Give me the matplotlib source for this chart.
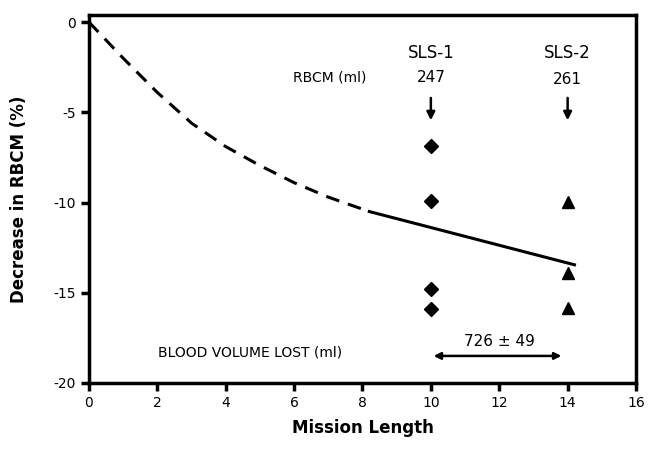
import numpy as np
import matplotlib.pyplot as plt

plt.rcParams['axes.unicode_minus'] = False

# dashed early-flight trend and solid fitted segment
dash_x = [0, 1, 2, 3, 4, 5, 6, 7, 8.2]
dash_y = [0, -2.0, -3.9, -5.6, -6.9, -7.95, -8.9, -9.7, -10.5]
solid_x = [8.2, 14.2]
solid_y = [-10.5, -13.45]

# individual subjects
sls1_x = [10, 10, 10, 10]
sls1_y = [-6.85, -9.9, -14.8, -15.9]
sls2_x = [14, 14, 14]
sls2_y = [-9.95, -13.9, -15.85]

xticks = [0, 2, 4, 6, 8, 10, 12, 14, 16]
yticks = [0, -5, -10, -15, -20]


def main():
    fig = plt.figure(figsize=(6.49, 4.49), dpi=100)
    ax = fig.add_axes([0.137, 0.147, 0.843, 0.82])

    ax.plot(dash_x, dash_y, color='black', lw=2.2, ls=(0, (4.5, 3)))
    ax.plot(solid_x, solid_y, color='black', lw=2.2)
    ax.plot(sls1_x, sls1_y, 'D', color='black', ms=7, ls='none')
    ax.plot(sls2_x, sls2_y, '^', color='black', ms=9, ls='none')

    ax.set_xlim(0, 16)
    ax.set_ylim(-20, 0.4)
    ax.set_xticks(xticks)
    ax.set_yticks(yticks)
    ax.tick_params(direction='out', length=6, width=2.5, labelsize=10)
    for s in ax.spines.values():
        s.set_linewidth(2.5)

    ax.set_xlabel('Mission Length', fontsize=12, fontweight='bold', labelpad=6)
    ax.set_ylabel('Decrease in RBCM (%)', fontsize=12, fontweight='bold', labelpad=18)

    ax.text(10, -1.7, 'SLS-1', ha='center', va='center', fontsize=12)
    ax.text(14, -1.7, 'SLS-2', ha='center', va='center', fontsize=12)
    ax.text(10, -3.1, '247', ha='center', va='center', fontsize=11)
    ax.text(14, -3.2, '261', ha='center', va='center', fontsize=11)
    ax.text(7.05, -3.1, 'RBCM (ml)', ha='center', va='center', fontsize=10)
    for x in (10, 14):
        ax.annotate('', xy=(x, -5.6), xytext=(x, -4.05),
                    arrowprops=dict(arrowstyle='-|>', color='black', lw=1.8,
                                    mutation_scale=12))

    ax.text(4.7, -18.3, 'BLOOD VOLUME LOST (ml)', ha='center', va='center', fontsize=10)
    ax.text(12.0, -17.7, '726 ± 49', ha='center', va='center', fontsize=11)
    ax.annotate('', xy=(10, -18.5), xytext=(13.9, -18.5),
                arrowprops=dict(arrowstyle='<|-|>', color='black', lw=1.8,
                                mutation_scale=10))

    fig.savefig('out.png', dpi=100)


if __name__ == "__main__":
    main()
